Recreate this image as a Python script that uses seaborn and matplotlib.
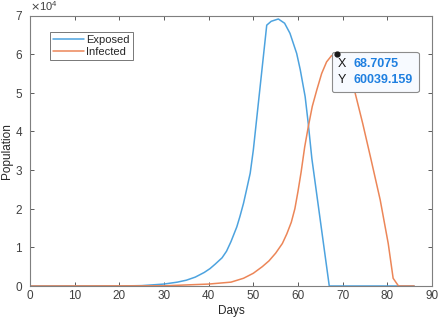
import pandas as pd
import matplotlib
matplotlib.use("Agg")
import matplotlib.pyplot as plt
import seaborn as sns
from matplotlib.offsetbox import TextArea, HPacker, VPacker, AnnotationBbox

# values
exposed_days = [0, 20, 25, 30, 33, 35, 37, 39, 40.3, 41.5, 43, 44, 45, 46.3, 47, 47.8, 48.5, 49.3, 50,
                53, 54, 55.6, 57, 58.2, 59.7, 60.5, 61.6, 62.3, 63.1, 67, 86]
exposed_pop = [0, 0, 100, 500, 1000, 1500, 2300, 3500, 4500, 5700, 7300, 9000, 11500, 15300, 18000, 21400, 25000, 29200, 35200,
               67500, 68500, 69100, 68000, 65400, 60200, 56000, 49000, 42000, 33000, 0, 0]

infected_days = [0, 30, 40, 45, 47.8, 50, 52, 53.5, 55, 56.5, 57.5, 58.5, 59.3, 60, 60.7, 61.5, 62.3, 63.2, 64.2,
                 65.3, 66.4, 67.5, 68.7075, 70, 71.5, 72.8, 74.5, 76.3, 78.4, 80.2, 81.3, 82.5, 86]
infected_pop = [0, 50, 500, 1000, 2000, 3300, 5000, 6500, 8500, 11000, 13500, 16500, 20000, 24500, 29500, 36000, 41200, 46500, 50700,
                55000, 58000, 59600, 60039.159, 58700, 55000, 49900, 42000, 33000, 22300, 11000, 2000, 0, 0]

series_names = ["Exposed", "Infected"]
colors = ["#4da3df", "#ec8658"]

df = pd.concat([
    pd.DataFrame({"Days": exposed_days, "Population": exposed_pop, "Group": "Exposed"}),
    pd.DataFrame({"Days": infected_days, "Population": infected_pop, "Group": "Infected"}),
], ignore_index=True)

sns.set_theme(style="white")
plt.rcParams["font.family"] = ["Liberation Sans", "DejaVu Sans"]

fig = plt.figure(figsize=(4.4, 3.22), dpi=100)
ax = fig.add_axes([30 / 440, 1 - 286 / 322, 402 / 440, 270.5 / 322])

sns.lineplot(data=df, x="Days", y="Population", hue="Group", hue_order=series_names,
             palette=colors, linewidth=1.1, estimator=None, ax=ax)

ax.set_xlim(0, 90)
ax.set_ylim(0, 70000)
ax.set_xticks(range(0, 91, 10))
ax.set_yticks(range(0, 70001, 10000))
ax.ticklabel_format(style="sci", axis="y", scilimits=(4, 4), useMathText=True)
ax.yaxis.get_offset_text().set_fontsize(8)
ax.yaxis.get_offset_text().set_color("#404040")

ax.tick_params(direction="in", length=3, width=0.6, colors="#404040", labelsize=8.5,
               top=True, right=True, bottom=True, left=True, pad=3)
ax.tick_params(axis="y", pad=5)
for s in ax.spines.values():
    s.set_color("#7f7f7f")
    s.set_linewidth(0.8)

ax.set_xlabel("Days", fontsize=8.5, color="#262626", labelpad=2)
ax.set_ylabel("Population", fontsize=8.5, color="#262626", labelpad=1)

leg = ax.legend(loc="upper left", bbox_to_anchor=(0.035, 0.96), fontsize=8,
                frameon=True, fancybox=False, edgecolor="#555555",
                handlelength=2.8, handletextpad=0.2, borderpad=0.3, labelspacing=0.15)
leg.get_frame().set_linewidth(0.7)

# data tip on the infected peak
i_peak = infected_pop.index(max(infected_pop))
px, py = infected_days[i_peak], infected_pop[i_peak]
ax.plot([px], [py], "o", color="#1a1a1a", markersize=3.5, zorder=5)

lab = dict(size=9, color="#1a1a1a")
val = dict(size=9, color="#1e7fe0", weight="bold")
row1 = HPacker(children=[TextArea("X", textprops=lab), TextArea(f"{px:g}", textprops=val)], sep=5, align="baseline")
row2 = HPacker(children=[TextArea("Y", textprops=lab), TextArea(f"{py:.3f}", textprops=val)], sep=5, align="baseline")
pack = VPacker(children=[row1, row2], sep=3, align="left")
tip = AnnotationBbox(pack, (px, py), xybox=(1, -4), xycoords="data", boxcoords="offset pixels",
                     box_alignment=(0, 1), pad=0.4, frameon=True,
                     bboxprops=dict(boxstyle="round,pad=0.4,rounding_size=0.15",
                                    facecolor="#f7faff", edgecolor="#8c8c8c", linewidth=0.8))
ax.add_artist(tip)

fig.savefig("out.png", dpi=100)
